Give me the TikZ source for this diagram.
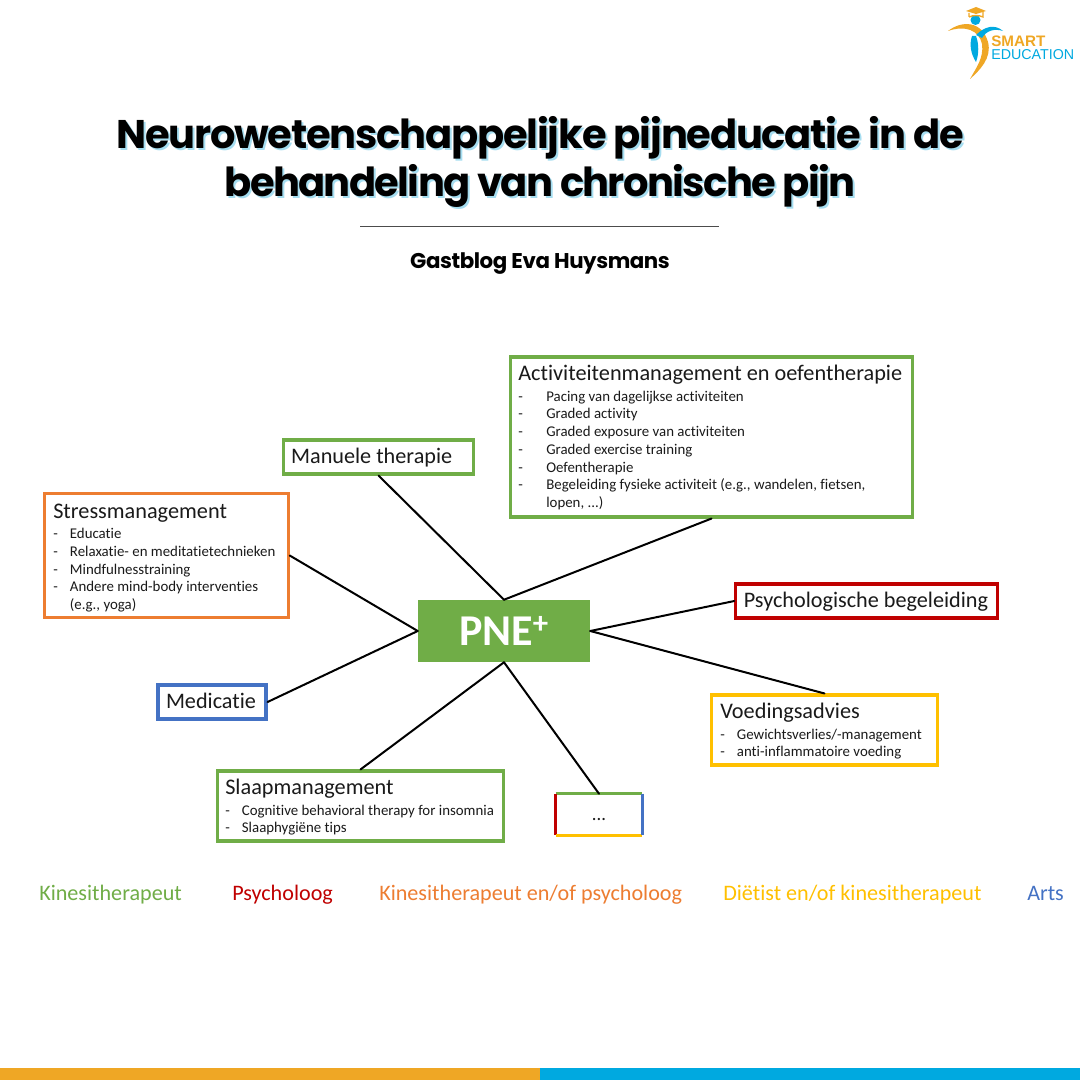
\documentclass[tikz,border=0pt]{standalone}
\usepackage{fontspec}
\setmainfont{Carlito}[Ligatures=NoCommon]
\newfontfamily\titlefont[LetterSpace=-3]{Poppins}
\newfontfamily\titlefontb[LetterSpace=-4.1]{Poppins}
\newfontfamily\subfont[LetterSpace=-2]{Poppins}
\newfontfamily\logofont{Liberation Sans}
\definecolor{kgreen}{HTML}{70AD47}
\definecolor{kred}{HTML}{C00000}
\definecolor{korange}{HTML}{ED7D31}
\definecolor{kyellow}{HTML}{FFC000}
\definecolor{kblue}{HTML}{4472C4}
\definecolor{barorange}{HTML}{EFA725}
\definecolor{barblue}{HTML}{00A9E0}
\definecolor{shadowblue}{HTML}{A5DDF0}
\definecolor{inktext}{HTML}{1A1A1A}
\newcommand{\headtxt}{\fontsize{16.7pt}{18pt}\selectfont}
\newcommand{\itemtxt}{\fontsize{11.15pt}{13.3pt}\selectfont}
\newcommand{\dashitem}[1]{\makebox[21pt][l]{-}#1}
\newcommand{\dashcont}[1]{\hspace*{21pt}#1}
\newcommand{\dashitemb}[1]{\makebox[12.5pt][l]{-}#1}
\newcommand{\dashcontb}[1]{\hspace*{12.5pt}#1}
\newcommand{\leftin}[2]{\makebox[#1][l]{\hspace*{6pt}\raisebox{-5pt}[0pt][0pt]{#2}}}
\tikzset{
 x=0.75pt,y=-0.75pt,
 framebox/.style={draw=#1,line width=2.3pt,fill=white,inner sep=0pt,text=inktext},
 oneline/.style={font=\fontsize{16.65pt}{18pt}\selectfont},
 spoke/.style={draw=black,line width=1.5pt,line cap=round},
 legend/.style={anchor=base west,inner sep=0pt,font=\fontsize{16.6pt}{18pt}\selectfont,text=#1},
 boxtext/.style={anchor=north west,inner sep=0pt,align=left,text=inktext,font=\itemtxt},
 titletext/.style={anchor=base,inner sep=0pt,font=\titlefont\bfseries\fontsize{30pt}{36pt}\selectfont,text=#1},
 titletextb/.style={anchor=base,inner sep=0pt,font=\titlefontb\bfseries\fontsize{30pt}{36pt}\selectfont,text=#1},
}
\begin{document}
\begin{tikzpicture}
\useasboundingbox (0,0) rectangle (1080,1080);
\fill[white] (0,0) rectangle (1080,1080);
% bottom bar
\fill[barorange] (0,1068) rectangle (540,1080);
\fill[barblue] (540,1068) rectangle (1080,1080);
% title
\node[titletext=shadowblue] at (542,151) {Neurowetenschappelijke pijneducatie in de};
\node[titletextb=shadowblue] at (542,199) {behandeling van chronische pijn};
\node[titletext=black] at (540,149) {Neurowetenschappelijke pijneducatie in de};
\node[titletextb=black] at (540,197) {behandeling van chronische pijn};
\draw[line width=0.75pt,draw=black!70] (360,227) -- (719,227);
\node[anchor=base,inner sep=0pt,font=\subfont\bfseries\fontsize{16pt}{20pt}\selectfont] at (540,269) {Gastblog Eva Huysmans};
% logo
\fill[barorange] (948,31) .. controls (962,20) and (982,21) .. (988,42) .. controls (992,58) and (980,70) .. (970,79) .. controls (976,68) and (984,58) .. (982,44) .. controls (979,30) and (965,25) .. (948,31) -- cycle;
\fill[barblue] (976,35) .. controls (985,26) and (995,24) .. (1003,31) .. controls (994,28) and (986,31) .. (982,38) -- cycle;
\fill[barblue] (972,36) .. controls (969,45) and (971,54) .. (976,62) .. controls (979,54) and (979,44) .. (976,36) -- cycle;
\fill[barblue] (975.5,20) circle[radius=5];
\fill[barorange] (966,11) -- (976,7) -- (986,11) -- (976,14) -- cycle;
\draw[barorange,line width=1pt] (969,13) -- (969,17) (969,17) .. controls (973,15) and (979,15) .. (983,17) -- (983,12);
\node[anchor=base west,inner sep=0pt,font=\logofont\bfseries\fontsize{11.4pt}{12pt}\selectfont,text=barorange] at (991,47) {SMART};
\node[anchor=base west,inner sep=0pt,font=\logofont\fontsize{10.7pt}{12pt}\selectfont,text=barblue] at (991,60) {EDUCATION};
% nodes
\node[fill=kgreen,minimum width=129pt,minimum height=46.5pt,inner sep=0pt,text=white,font=\bfseries\fontsize{33pt}{36pt}\selectfont] (pne) at (504,631) {PNE\textsuperscript{+}};
\node[framebox=kgreen,minimum width=302pt,minimum height=120pt] (act) at (711.5,437) {};
\node[boxtext] (acttxt) at (518,365) {{\headtxt Activiteitenmanagement en oefentherapie}\\[2pt]
 \dashitem{Pacing van dagelijkse activiteiten}\\
 \dashitem{Graded activity}\\
 \dashitem{Graded exposure van activiteiten}\\
 \dashitem{Graded exercise training}\\
 \dashitem{Oefentherapie}\\
 \dashitem{Begeleiding fysieke activiteit (e.g., wandelen, fietsen,}\\
 \dashcont{lopen, ...)}};
\node[framebox=kgreen,minimum width=143pt,minimum height=25.5pt,oneline] (man) at (378.5,457) {\leftin{143pt}{Manuele therapie}};
\node[framebox=korange,minimum width=182.5pt,minimum height=92.5pt] (stress) at (166.5,555.5) {};
\node[boxtext] (stresstxt) at (53,503.5) {{\headtxt Stressmanagement}\\[2pt]
 \dashitemb{Educatie}\\
 \dashitemb{Relaxatie- en meditatietechnieken}\\
 \dashitemb{Mindfulnesstraining}\\
 \dashitemb{Andere mind-body interventies}\\
 \dashcontb{(e.g., yoga)}};
\node[framebox=kblue,minimum width=81pt,minimum height=25.5pt,oneline] (med) at (212,702) {\leftin{81pt}{Medicatie}};
\node[framebox=kgreen,minimum width=215pt,minimum height=52.5pt] (slaap) at (360.5,806) {};
\node[boxtext] (slaaptxt) at (225,779) {{\headtxt Slaapmanagement}\\[2pt]
 \dashitemb{Cognitive behavioral therapy for insomnia}\\
 \dashitemb{Slaaphygiëne tips}};
\node[minimum width=64.5pt,minimum height=30.75pt,inner sep=0pt,text=inktext,font=\fontsize{14pt}{15pt}\selectfont] (dots) at (599,814.5) {\raisebox{-4.5pt}[0pt][0pt]{...}};
\draw[kgreen,line width=2.3pt] (dots.north west) -- (dots.north east);
\draw[kred,line width=2.3pt] (dots.north west) -- (dots.south west);
\draw[kyellow,line width=2.3pt] (dots.south west) -- (dots.south east);
\draw[kblue,line width=2.3pt] (dots.north east) -- (dots.south east);
\node[framebox=kred,minimum width=196pt,minimum height=25.5pt,oneline] (psy) at (866.5,601) {\leftin{196pt}{Psychologische begeleiding}};
\node[framebox=kyellow,minimum width=169pt,minimum height=52.5pt] (voed) at (824.5,730) {};
\node[boxtext] (voedtxt) at (720,703) {{\headtxt Voedingsadvies}\\[2pt]
 \dashitemb{Gewichtsverlies/-management}\\
 \dashitemb{anti-inflammatoire voeding}};
% connectors
\draw[spoke] (pne.north) -- (act.south);
\draw[spoke] (pne.north) -- (man.south);
\draw[spoke] (pne.west) -- (stress.east);
\draw[spoke] (pne.west) -- (med.east);
\draw[spoke] (pne.south) -- (slaap.north);
\draw[spoke] (pne.south) -- (dots.north);
\draw[spoke] (pne.east) -- (psy.west);
\draw[spoke] (pne.east) -- (voed.north);
% legend
\node[legend=kgreen] (l1) at (39,900) {Kinesitherapeut};
\node[legend=kred] (l2) at (232,900) {Psycholoog};
\node[legend=korange] (l3) at (379,900) {Kinesitherapeut en/of psycholoog};
\node[legend=kyellow] (l4) at (723,900) {Diëtist en/of kinesitherapeut};
\node[legend=kblue] (l5) at (1027,900) {Arts};
\end{tikzpicture}
\end{document}
